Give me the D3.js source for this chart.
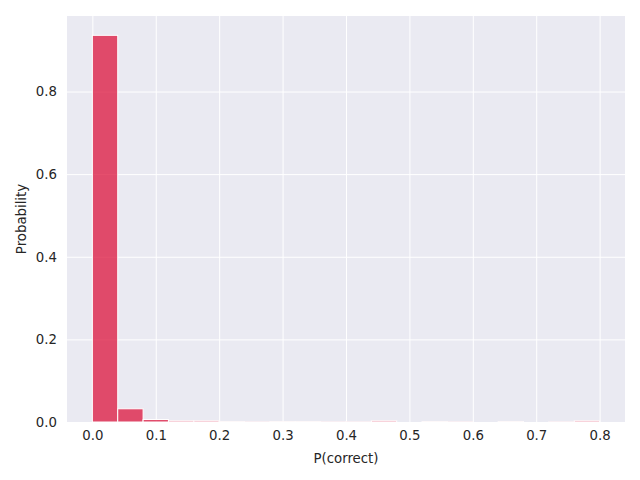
<!DOCTYPE html>
<html><head><meta charset="utf-8">
<script src="https://cdn.jsdelivr.net/npm/d3@7"></script>
<style>body{margin:0;background:#fff;} text{font-family:"DejaVu Sans",sans-serif;}</style>
</head><body>
<svg id="c" width="640" height="480"></svg>
<script>
const binEdges = [0.00,0.04,0.08,0.12,0.16,0.20,0.24,0.28,0.32,0.36,0.40,0.44,0.48,0.52,0.56,0.60,0.64,0.68,0.72,0.76,0.80];
const probabilities = [0.936,0.032,0.006,0.003,0.003,0.001,0.0005,0.001,0.001,0.0005,0.0005,0.003,0,0.001,0.0005,0,0.001,0,0.0005,0.003];
const xTicks = [0,0.1,0.2,0.3,0.4,0.5,0.6,0.7,0.8];
const yTicks = [0,0.2,0.4,0.6,0.8];

const svg = d3.select("#c");
const m = {l:67, r:625, t:16, b:422};
const x = d3.scaleLinear().domain([-0.04,0.84]).range([m.l,m.r]);
const y = d3.scaleLinear().domain([0,0.9828]).range([m.b,m.t]);

svg.append("rect").attr("x",m.l).attr("y",m.t).attr("width",m.r-m.l).attr("height",m.b-m.t).attr("fill","#EAEAF2");

const gx = svg.append("g").attr("transform",`translate(0,${m.b})`)
  .call(d3.axisBottom(x).tickValues(xTicks).tickFormat(d3.format(".1f")).tickSize(-(m.b-m.t)).tickPadding(9));
const gy = svg.append("g").attr("transform",`translate(${m.l},0)`)
  .call(d3.axisLeft(y).tickValues(yTicks).tickFormat(d3.format(".1f")).tickSize(-(m.r-m.l)).tickPadding(10));
[gx,gy].forEach(g=>{
  g.select(".domain").remove();
  g.selectAll(".tick line").attr("stroke","#fff").attr("stroke-width",1);
  g.selectAll(".tick text").attr("fill","#262626").style("font-size","13.3px");
});

svg.append("g").selectAll("rect").data(probabilities).join("rect")
  .attr("x",(d,i)=>x(binEdges[i]))
  .attr("width",(d,i)=>x(binEdges[i+1])-x(binEdges[i]))
  .attr("y",d=>y(d))
  .attr("height",d=>y(0)-y(d))
  .attr("fill","#DC143C").attr("fill-opacity",0.75)
  .attr("stroke","#fff").attr("stroke-width",1);

svg.append("text").attr("x",(m.l+m.r)/2).attr("y",463).attr("text-anchor","middle")
  .attr("fill","#262626").style("font-size","13.3px").text("P(correct)");
svg.append("text").attr("transform",`translate(26,${(m.t+m.b)/2}) rotate(-90)`).attr("text-anchor","middle")
  .attr("fill","#262626").style("font-size","13.3px").text("Probability");
</script>
</body></html>
